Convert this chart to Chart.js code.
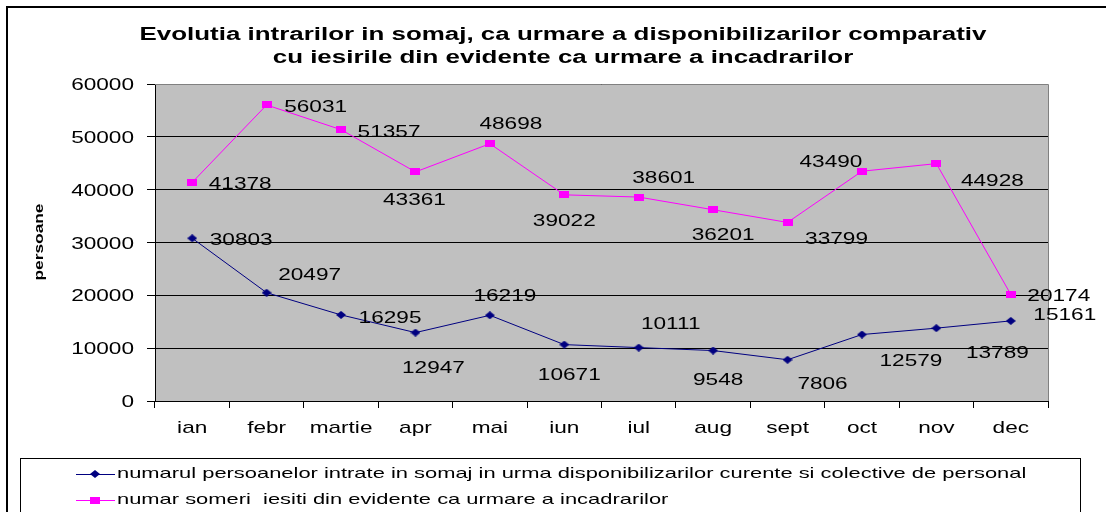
<!DOCTYPE html>
<html>
<head>
<meta charset="utf-8">
<script src="https://cdn.jsdelivr.net/npm/chart.js@4/dist/chart.umd.min.js"></script>
<style>
  body { margin: 0; background: #fff; }
  #wrap { width: 1106px; height: 512px; position: relative; }
</style>
</head>
<body>
<div id="wrap"><canvas id="somajChart"></canvas></div>
<script>
const months = ['ian', 'febr', 'martie', 'apr', 'mai', 'iun', 'iul', 'aug', 'sept', 'oct', 'nov', 'dec'];
const intrate = [30803, 20497, 16295, 12947, 16219, 10671, 10111, 9548, 7806, 12579, 13789, 15161];
const iesiti = [41378, 56031, 51357, 43361, 48698, 39022, 38601, 36201, 33799, 43490, 44928, 20174];
const yTicks = [0, 10000, 20000, 30000, 40000, 50000, 60000];
const titleLines = [
    'Evolutia intrarilor in somaj, ca urmare a disponibilizarilor comparativ',
    'cu iesirile din evidente ca urmare a incadrarilor'
];
const yTitle = 'persoane';
const seriesNames = [
    'numarul persoanelor intrate in somaj in urma disponibilizarilor curente si colective de personal',
    'numar someri  iesiti din evidente ca urmare a incadrarilor'
];

// where each value label sits relative to its point (dx, dy)
const intrateLabelPos = [[49, 1], [43, -19], [49, 2], [18, 34], [15, -20], [5, 29],
                         [32, -25], [5, 28], [35, 23], [49, 25], [61, 24], [54, -7]];
const iesitiLabelPos = [[48, 1], [49, 1], [48, 1], [-1, 27], [21, -21], [0, 25],
                        [25, -20], [10, 24], [49, 16], [-31, -10], [56, 16], [48, 1]];

const NAVY = '#000080';
const MAGENTA = '#FF00FF';
const SX = 1.33; // the original picture is stretched horizontally
const FONT = '"Liberation Sans", Arial, sans-serif';

function marker(kind, color) {
    const c = document.createElement('canvas');
    c.width = 10; c.height = kind === 'diamond' ? 8 : 7;
    const g = c.getContext('2d');
    g.fillStyle = color;
    if (kind === 'diamond') {
        g.beginPath();
        g.moveTo(5, 0); g.lineTo(10, 4); g.lineTo(5, 8); g.lineTo(0, 4);
        g.closePath();
        g.fill();
    } else {
        g.fillRect(0, 0, 10, 7);
    }
    return c;
}
const diamond = marker('diamond', NAVY);
const square = marker('square', MAGENTA);

function stretchText(ctx, text, x, y, font, align, sx) {
    ctx.save();
    ctx.translate(x, y);
    ctx.scale(sx || SX, 1);
    ctx.font = font;
    ctx.fillStyle = '#000';
    ctx.textAlign = align || 'left';
    ctx.textBaseline = 'alphabetic';
    ctx.fillText(text, 0, 0);
    ctx.restore();
}

const decorPlugin = {
    id: 'decor',
    beforeDraw(chart) {
        const { ctx, chartArea: a } = chart;
        ctx.save();
        ctx.fillStyle = '#C0C0C0';
        ctx.fillRect(a.left, a.top, a.right - a.left, a.bottom - a.top);
        ctx.restore();
    },
    afterDraw(chart) {
        const { ctx, chartArea: a } = chart;
        ctx.save();
        // plot frame top/right
        ctx.strokeStyle = '#808080';
        ctx.lineWidth = 1;
        ctx.beginPath();
        ctx.moveTo(a.left, a.top + 0.5);
        ctx.lineTo(a.right + 0.5, a.top + 0.5);
        ctx.lineTo(a.right + 0.5, a.bottom);
        ctx.stroke();
        // outer chart border
        ctx.strokeStyle = '#000';
        ctx.lineWidth = 2;
        ctx.beginPath();
        ctx.moveTo(7, 520);
        ctx.lineTo(7, 7);
        ctx.lineTo(1106, 7);
        ctx.stroke();
        ctx.restore();

        // title
        stretchText(ctx, titleLines[0], 563, 40, 'bold 18px ' + FONT, 'center', 1.44);
        stretchText(ctx, titleLines[1], 563, 63, 'bold 18px ' + FONT, 'center', 1.44);

        // y axis title
        ctx.save();
        ctx.translate(39, 242);
        ctx.rotate(-Math.PI / 2);
        ctx.scale(SX, 1);
        ctx.font = 'bold 13px ' + FONT;
        ctx.fillStyle = '#000';
        ctx.textAlign = 'center';
        ctx.textBaseline = 'middle';
        ctx.fillText(yTitle, 0, 0);
        ctx.restore();

        // tick labels
        const ys = chart.scales.y, xs = chart.scales.x;
        yTicks.forEach(v => stretchText(ctx, String(v), 134, ys.getPixelForValue(v) + 6, '17px ' + FONT, 'right'));
        months.forEach((m, i) => stretchText(ctx, m, xs.getPixelForValue(i), 433, '17px ' + FONT, 'center'));

        // value labels
        const labelPos = [intrateLabelPos, iesitiLabelPos];
        chart.data.datasets.forEach((ds, di) => {
            chart.getDatasetMeta(di).data.forEach((pt, j) => {
                const [dx, dy] = labelPos[di][j];
                stretchText(ctx, String(ds.data[j]), pt.x + dx, pt.y + dy + 6, '17px ' + FONT, 'center');
            });
        });

        // legend
        ctx.save();
        ctx.strokeStyle = '#000';
        ctx.lineWidth = 1;
        ctx.strokeRect(20.5, 458.5, 1060, 80);
        ctx.restore();
        const rows = [474, 500];
        chart.data.datasets.forEach((ds, di) => {
            const y = rows[di];
            ctx.save();
            ctx.strokeStyle = ds.borderColor;
            ctx.lineWidth = 1;
            ctx.beginPath();
            ctx.moveTo(76, y + 0.5);
            ctx.lineTo(115, y + 0.5);
            ctx.stroke();
            const img = ds.pointStyle;
            ctx.drawImage(img, 95 - img.width / 2, y - img.height / 2);
            ctx.restore();
            stretchText(ctx, ds.label, 117, y + 4, '15px ' + FONT, 'left', 1.46);
        });
    }
};

const ctx = document.getElementById('somajChart').getContext('2d');
const somajChart = new Chart(ctx, {
    type: 'line',
    data: {
        labels: months,
        datasets: [{
            label: seriesNames[0],
            data: intrate,
            borderColor: NAVY,
            backgroundColor: NAVY,
            borderWidth: 1,
            pointStyle: diamond,
            tension: 0
        }, {
            label: seriesNames[1],
            data: iesiti,
            borderColor: MAGENTA,
            backgroundColor: MAGENTA,
            borderWidth: 1,
            pointStyle: square,
            tension: 0
        }]
    },
    options: {
        responsive: true,
        maintainAspectRatio: false,
        animation: false,
        layout: { padding: { top: 84, right: 58, bottom: 0, left: 0 } },
        plugins: {
            legend: { display: false },
            title: { display: false },
            tooltip: { enabled: false }
        },
        scales: {
            x: {
                offset: true,
                grid: { offset: true, drawOnChartArea: false, color: '#000', tickLength: 7 },
                border: { color: '#000', width: 1 },
                ticks: { display: false },
                afterFit: function (scale) { scale.height = 111; }
            },
            y: {
                min: 0,
                max: 60000,
                ticks: { display: false, stepSize: 10000 },
                grid: { color: '#000', tickColor: '#000', tickLength: 8 },
                border: { color: '#000', width: 1 },
                afterFit: function (scale) { scale.width = 155; }
            }
        }
    },
    plugins: [decorPlugin]
});
</script>
</body>
</html>
